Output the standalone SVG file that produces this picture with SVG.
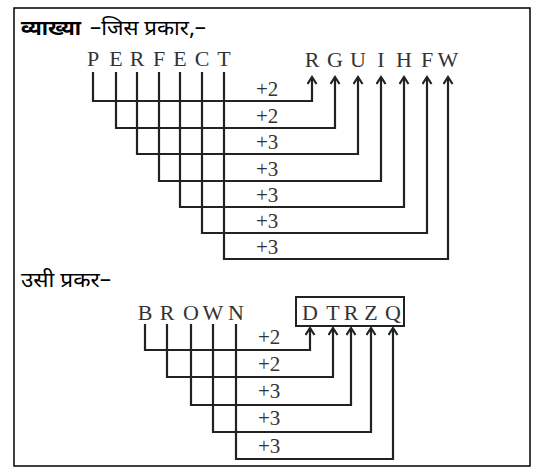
<svg xmlns="http://www.w3.org/2000/svg" width="536" height="472" viewBox="0 0 536 472">
<style>
.hi{font-family:"Noto Sans Devanagari","Lohit Devanagari","Noto Sans",sans-serif;font-size:21px;fill:#000}
.lt{font-family:"Liberation Serif","Times New Roman",serif;font-size:22px;fill:#333;text-anchor:middle}
.lb{font-family:"Liberation Serif","Times New Roman",serif;font-size:21px;fill:#333}
.c{fill:none;stroke:#222;stroke-width:2.2;marker-end:url(#ah)}
</style>
<defs>
<marker id="ah" markerUnits="userSpaceOnUse" markerWidth="12" markerHeight="12" refX="8" refY="5" orient="auto">
<path d="M1,0.5 L8,5 L1,9.5" fill="none" stroke="#222" stroke-width="2.2"/>
</marker>
</defs>
<rect x="14" y="8" width="516" height="458" fill="#fff" stroke="#000" stroke-width="1.5"/>
<text class="hi" x="21" y="35" font-weight="bold" textLength="60" lengthAdjust="spacingAndGlyphs">व्याख्या</text>
<text class="hi" x="90" y="35" textLength="116" lengthAdjust="spacingAndGlyphs">–जिस प्रकार,–</text>
<g id="source1">
<text class="lt" x="93" y="66">P</text><text class="lt" x="116" y="66">E</text><text class="lt" x="137" y="66">R</text><text class="lt" x="159" y="66">F</text><text class="lt" x="180" y="66">E</text><text class="lt" x="202" y="66">C</text><text class="lt" x="224" y="66">T</text>
</g>
<g id="target1">
<text class="lt" x="312" y="67">R</text><text class="lt" x="335" y="67">G</text><text class="lt" x="358" y="67">U</text><text class="lt" x="381" y="67">I</text><text class="lt" x="404" y="67">H</text><text class="lt" x="427" y="67">F</text><text class="lt" x="448" y="67">W</text>
</g>
<g id="connectors1">
<path class="c" d="M93,72 V101 H312 V77"/>
<path class="c" d="M116,72 V128 H335 V77"/>
<path class="c" d="M137,72 V154 H358 V77"/>
<path class="c" d="M159,72 V181 H381 V77"/>
<path class="c" d="M180,72 V207 H404 V77"/>
<path class="c" d="M202,72 V233 H427 V77"/>
<path class="c" d="M224,72 V259 H448 V77"/>
</g>
<g id="labels1">
<text class="lb" x="256" y="96">+2</text>
<text class="lb" x="256" y="123">+2</text>
<text class="lb" x="256" y="149">+3</text>
<text class="lb" x="256" y="176">+3</text>
<text class="lb" x="256" y="202">+3</text>
<text class="lb" x="256" y="228">+3</text>
<text class="lb" x="256" y="254">+3</text>
</g>
<text class="hi" x="21" y="287" textLength="90" lengthAdjust="spacingAndGlyphs">उसी प्रकर–</text>
<g id="source2">
<text class="lt" x="145" y="320">B</text><text class="lt" x="167" y="320">R</text><text class="lt" x="191" y="320">O</text><text class="lt" x="213" y="320">W</text><text class="lt" x="236" y="320">N</text>
</g>
<g id="target2">
<rect x="296" y="297" width="108" height="29" fill="none" stroke="#222" stroke-width="2"/>
<text class="lt" x="310" y="320">D</text><text class="lt" x="333" y="320">T</text><text class="lt" x="351" y="320">R</text><text class="lt" x="371" y="320">Z</text><text class="lt" x="393" y="320">Q</text>
</g>
<g id="connectors2">
<path class="c" d="M145,324 V350 H310 V328"/>
<path class="c" d="M167,324 V377 H333 V328"/>
<path class="c" d="M191,324 V405 H351 V328"/>
<path class="c" d="M213,324 V432 H371 V328"/>
<path class="c" d="M236,324 V459 H393 V328"/>
</g>
<g id="labels2">
<text class="lb" x="258" y="344">+2</text>
<text class="lb" x="258" y="371">+2</text>
<text class="lb" x="258" y="398">+3</text>
<text class="lb" x="258" y="425">+3</text>
<text class="lb" x="258" y="453">+3</text>
</g>
</svg>
